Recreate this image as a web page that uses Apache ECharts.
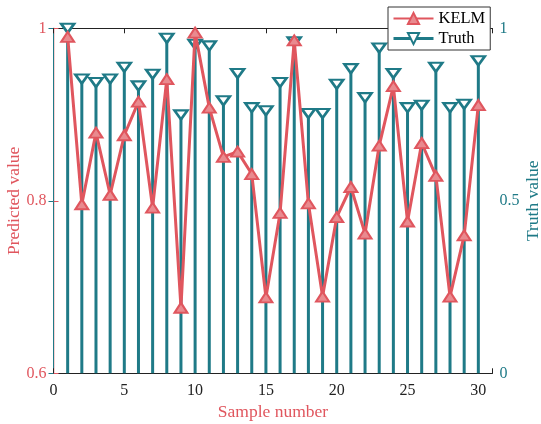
<!DOCTYPE html>
<html><head><meta charset="utf-8">
<script src="https://cdn.jsdelivr.net/npm/echarts@6/dist/echarts.min.js"></script>
<style>html,body{margin:0;padding:0;background:#fff}#c{width:541px;height:424px}</style>
</head><body><div id="c"></div>
<script>
const samples = [1,2,3,4,5,6,7,8,9,10,11,12,13,14,15,16,17,18,19,20,21,22,23,24,25,26,27,28,29,30];
const kelm = [0.990,0.796,0.879,0.807,0.876,0.915,0.792,0.941,0.676,0.995,0.908,0.851,0.857,0.831,0.688,0.786,0.986,0.797,0.689,0.781,0.816,0.762,0.864,0.933,0.776,0.867,0.829,0.689,0.760,0.911];
const truth = [1.000,0.853,0.843,0.853,0.887,0.833,0.867,0.971,0.749,0.954,0.949,0.790,0.869,0.770,0.761,0.843,0.961,0.753,0.753,0.838,0.883,0.799,0.943,0.869,0.770,0.777,0.887,0.770,0.780,0.906];
const xTicks = [0,5,10,15,20,25,30];

const RED = '#e0565e', TEAL = '#1f7a87';
const FONT = 'Liberation Serif';
const chart = echarts.init(document.getElementById('c'));
const kelmData = samples.map((s,i)=>[s,kelm[i]]);
const truthData = samples.map((s,i)=>[s,truth[i]]);
chart.setOption({
  animation:false,
  textStyle:{fontFamily:FONT},
  grid:{left:53.5,right:48.5,top:28.3,bottom:50.7,containLabel:false,outerBoundsMode:'none'},
  legend:{
    orient:'vertical', left:388, top:7,
    backgroundColor:'#fff', borderColor:'#333', borderWidth:1, borderRadius:0,
    padding:[3,5,3,4], itemGap:3, itemWidth:40, itemHeight:14,
    textStyle:{fontFamily:FONT,fontSize:16.5,color:'#000'},
    data:[
      {name:'KELM'},
      {name:'Truth', lineStyle:{color:TEAL,width:3,opacity:1}}
    ]
  },
  xAxis:[{
    type:'value', min:0, max:31, interval:5, position:'bottom',
    name:'Sample number', nameLocation:'middle', nameGap:30, nameMoveOverlap:false,
    nameTextStyle:{color:RED,fontSize:17.5,fontFamily:FONT},
    axisLine:{lineStyle:{color:'#222',width:1}},
    axisTick:{inside:true,length:5,lineStyle:{color:'#222'}},
    axisLabel:{color:'#222',fontSize:16,fontFamily:FONT,margin:9,
      formatter:v=>xTicks.indexOf(v)>=0?String(v):''},
    splitLine:{show:false}
  },{
    type:'value', min:0, max:31, interval:5, position:'top',
    axisLine:{lineStyle:{color:'#222',width:1}},
    axisTick:{inside:true,length:5,lineStyle:{color:'#222'}},
    axisLabel:{show:false}, splitLine:{show:false}
  }],
  yAxis:[{
    type:'value', min:0.6, max:1, interval:0.2, position:'left',
    name:'Predicted value', nameLocation:'middle', nameGap:30, nameMoveOverlap:false,
    nameTextStyle:{color:RED,fontSize:17.5,fontFamily:FONT},
    axisLine:{show:true,lineStyle:{color:'#f5c0c3',width:1.5}},
    axisTick:{show:true,inside:true,length:5,lineStyle:{color:RED}},
    axisLabel:{color:RED,fontSize:16,fontFamily:FONT,margin:7,
      formatter:v=>String(Math.round(v*10)/10)},
    splitLine:{show:false}
  },{
    type:'value', min:0, max:1, interval:0.5, position:'right',
    name:'Truth value', nameLocation:'middle', nameGap:32, nameRotate:90, nameMoveOverlap:false,
    nameTextStyle:{color:TEAL,fontSize:17.5,fontFamily:FONT},
    axisLine:{show:true,lineStyle:{color:TEAL,width:1}},
    axisTick:{show:true,inside:true,length:5,lineStyle:{color:TEAL}},
    axisLabel:{color:TEAL,fontSize:16,fontFamily:FONT,margin:7},
    splitLine:{show:false}
  }],
  series:[
    {
      name:'TruthStem', type:'bar', xAxisIndex:0, yAxisIndex:1, data:truthData,
      barWidth:3, itemStyle:{color:TEAL}, z:2, silent:true
    },
    {
      name:'Truth', type:'line', xAxisIndex:0, yAxisIndex:1, data:truthData,
      lineStyle:{width:0,opacity:0}, symbol:'triangle', symbolRotate:180,
      symbolSize:[13,9], showSymbol:true,
      itemStyle:{color:'#fff',borderColor:TEAL,borderWidth:2.5}, z:3
    },
    {
      name:'KELM', type:'line', xAxisIndex:0, yAxisIndex:0, data:kelmData,
      lineStyle:{color:RED,width:3}, symbol:'triangle', symbolSize:[13,10],
      showSymbol:true, itemStyle:{color:'#e98a8f',borderColor:RED,borderWidth:2}, z:4
    }
  ]
});
</script></body></html>
